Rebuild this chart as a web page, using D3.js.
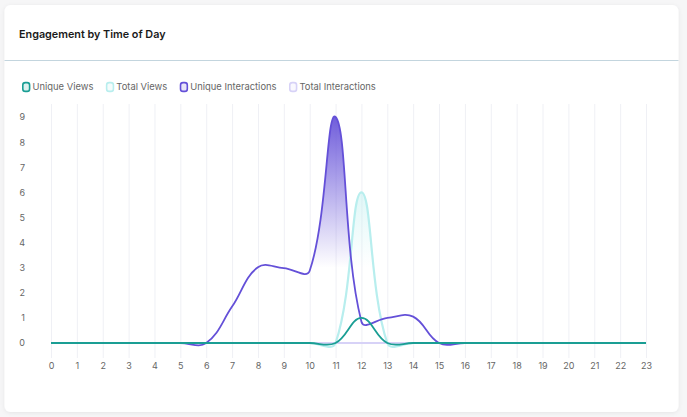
<!DOCTYPE html>
<html>
<head>
<meta charset="utf-8">
<script src="https://cdn.jsdelivr.net/npm/d3@7"></script>
<style>
  html, body { margin: 0; padding: 0; background: #f6f6f7; }
  svg { display: block; font-family: Inter, "Noto Sans", sans-serif; }
</style>
</head>
<body>
<svg id="chart" width="687" height="417"></svg>
<script>
// data
const hours = [0, 1, 2, 3, 4, 5, 6, 7, 8, 9, 10, 11, 12, 13, 14, 15, 16, 17, 18, 19, 20, 21, 22, 23]
const uniqueViews = [0, 0, 0, 0, 0, 0, 0, 0, 0, 0, 0, 0, 1, 0, 0, 0, 0, 0, 0, 0, 0, 0, 0, 0]
const totalViews = [0, 0, 0, 0, 0, 0, 0, 0, 0, 0, 0, 0, 6, 0, 0, 0, 0, 0, 0, 0, 0, 0, 0, 0]
const uniqueInteractions = [0, 0, 0, 0, 0, 0, 0, 1.45, 3.02, 2.98, 2.88, 9, 0.85, 1.0, 1.05, 0, 0, 0, 0, 0, 0, 0, 0, 0]
const totalInteractions = [0, 0, 0, 0, 0, 0, 0, 0, 0, 0, 0, 0, 0, 0, 0, 0, 0, 0, 0, 0, 0, 0, 0, 0]
const yTicks = [0, 1, 2, 3, 4, 5, 6, 7, 8, 9]

const series = [
  { name: 'Unique Views', values: uniqueViews, color: '#1a9e94', fill: null, width: 1.8 },
  { name: 'Total Views', values: totalViews, color: '#b8eeee', fill: 'gradCyan', width: 2.2 },
  { name: 'Unique Interactions', values: uniqueInteractions, color: '#6450d8', fill: 'gradPurple', width: 1.8 },
  { name: 'Total Interactions', values: totalInteractions, color: '#d7d2f7', fill: null, width: 1.8 }
]

const width = 687
const height = 417
const svg = d3.select('#chart')

// Chart.js style spline (tension 0.4), so the overshoots match
const tension = 0.4
function ChartSpline(context) { this._context = context }
ChartSpline.prototype = {
  areaStart() { this._line = 0 },
  areaEnd() { this._line = NaN },
  lineStart() { this._pts = [] },
  lineEnd() {
    const p = this._pts, n = p.length, ctx = this._context
    if (n) {
      this._line ? ctx.lineTo(p[0][0], p[0][1]) : ctx.moveTo(p[0][0], p[0][1])
      const cps = p.map((cur, i) => {
        const prev = p[i - 1] || cur, next = p[i + 1] || cur
        const d01 = Math.hypot(cur[0] - prev[0], cur[1] - prev[1])
        const d12 = Math.hypot(next[0] - cur[0], next[1] - cur[1])
        let s01 = d01 / (d01 + d12), s12 = d12 / (d01 + d12)
        if (!isFinite(s01)) s01 = 0
        if (!isFinite(s12)) s12 = 0
        const fa = tension * s01, fb = tension * s12
        return {
          a: [cur[0] - fa * (next[0] - prev[0]), cur[1] - fa * (next[1] - prev[1])],
          b: [cur[0] + fb * (next[0] - prev[0]), cur[1] + fb * (next[1] - prev[1])]
        }
      })
      for (let i = 1; i < n; i++) {
        ctx.bezierCurveTo(cps[i - 1].b[0], cps[i - 1].b[1], cps[i].a[0], cps[i].a[1], p[i][0], p[i][1])
      }
    }
    if (this._line || (this._line !== 0 && n === 1)) ctx.closePath()
    this._line = 1 - this._line
  },
  point(x, y) { this._pts.push([+x, +y]) }
}
const curveChartJs = ctx => new ChartSpline(ctx)

// defs: card shadow + gradients
const defs = svg.append('defs')
const shadow = defs.append('filter').attr('id', 'shadow')
  .attr('x', '-5%').attr('y', '-5%').attr('width', '110%').attr('height', '110%')
shadow.append('feDropShadow').attr('dx', 0).attr('dy', 1).attr('stdDeviation', 2)
  .attr('flood-color', '#000').attr('flood-opacity', 0.07)

// card
svg.append('rect').attr('x', 4.5).attr('y', 5).attr('width', 674).attr('height', 407)
  .attr('rx', 6).attr('fill', '#fff').attr('filter', 'url(#shadow)')

svg.append('text').attr('x', 19).attr('y', 38)
  .attr('font-size', 10.8).attr('font-weight', 600).attr('fill', '#1a1a1a')
  .text('Engagement by Time of Day')

svg.append('line').attr('x1', 4.5).attr('x2', 678.5).attr('y1', 60.5).attr('y2', 60.5)
  .attr('stroke', '#c3d5de').attr('stroke-width', 1)

// scales
const x = d3.scaleLinear().domain([0, 23]).range([51, 646])
const y = d3.scaleLinear().domain([0, 9]).range([343, 117])
const gridTop = 104
const axisY = 358

function addGradient(id, color, topOpacity) {
  const g = defs.append('linearGradient').attr('id', id)
    .attr('gradientUnits', 'userSpaceOnUse')
    .attr('x1', 0).attr('x2', 0).attr('y1', y(9)).attr('y2', y(3))
  g.append('stop').attr('offset', 0).attr('stop-color', color).attr('stop-opacity', topOpacity)
  g.append('stop').attr('offset', 1).attr('stop-color', color).attr('stop-opacity', 0)
}
addGradient('gradPurple', '#6450d8', 0.92)
addGradient('gradCyan', '#b8eeee', 0.9)

// x axis with vertical grid lines
const xAxis = svg.append('g').attr('transform', `translate(0,${axisY})`)
  .call(d3.axisBottom(x).tickValues(hours).tickFormat(d3.format('d'))
    .tickSize(-(axisY - gridTop)).tickPadding(5))
xAxis.select('.domain').remove()
xAxis.selectAll('.tick line').attr('stroke', '#eff0f5')
xAxis.selectAll('.tick text').attr('fill', '#666').attr('font-size', 9)
  .attr('font-family', 'Inter, "Noto Sans", sans-serif')

// y axis, labels only
const yAxis = svg.append('g').attr('transform', 'translate(28,0)')
  .call(d3.axisLeft(y).tickValues(yTicks).tickSize(0).tickPadding(3))
yAxis.select('.domain').remove()
yAxis.selectAll('.tick text').attr('fill', '#666').attr('font-size', 9)
  .attr('font-family', 'Inter, "Noto Sans", sans-serif')

// fills then lines, last series at the bottom
const area = d3.area().x((d, i) => x(hours[i])).y0(y(0)).y1(d => y(d)).curve(curveChartJs)
const line = d3.line().x((d, i) => x(hours[i])).y(d => y(d)).curve(curveChartJs)

const drawOrder = [series[3], series[1], series[2], series[0]]
drawOrder.filter(s => s.fill).forEach(s => {
  svg.append('path').attr('d', area(s.values)).attr('fill', `url(#${s.fill})`)
})
drawOrder.forEach(s => {
  svg.append('path').attr('d', line(s.values)).attr('fill', 'none')
    .attr('stroke', s.color).attr('stroke-width', s.width)
})

// legend
const legend = svg.append('g').attr('transform', 'translate(0,87)')
let cursor = 22
series.forEach(s => {
  legend.append('rect').attr('x', cursor + 0.8).attr('y', -4.4).attr('width', 6.8).attr('height', 8.8)
    .attr('rx', 2.5).attr('fill', d3.color(s.color).copy({ opacity: 0.15 }))
    .attr('stroke', s.color).attr('stroke-width', 1.6)
  const t = legend.append('text').attr('x', cursor + 10.5).attr('y', 3.4)
    .attr('font-size', 9.4).attr('fill', '#666').text(s.name)
  cursor += 10.5 + t.node().getComputedTextLength() + 12.5
})
</script>
</body>
</html>
